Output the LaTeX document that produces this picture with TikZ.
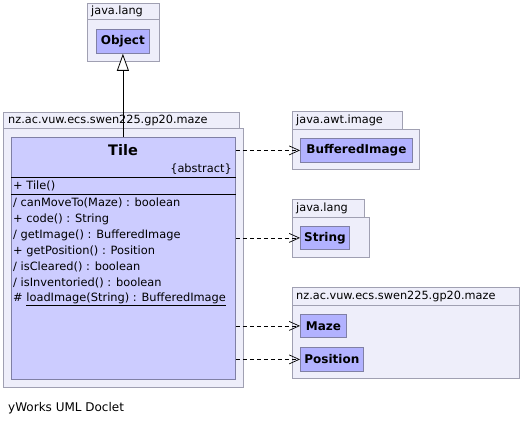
\documentclass[tikz,border=0pt]{standalone}
\usepackage{fontspec}
\setmainfont{DejaVu Sans}
\usetikzlibrary{arrows.meta}
\definecolor{pkgfill}{RGB}{238,238,250}
\definecolor{pkgline}{RGB}{160,160,178}
\definecolor{clsfill}{RGB}{178,178,255}
\definecolor{tilefill}{RGB}{204,204,255}
\definecolor{clsline}{RGB}{128,128,165}
\tikzset{
  pkg/.style={draw=pkgline, fill=pkgfill, line width=0.8pt},
  pkglabel/.style={anchor=west, inner sep=0pt, font=\fontsize{11.3}{13}\selectfont},
  cls/.style={draw=clsline, fill=clsfill, line width=0.8pt, inner sep=0pt, anchor=north west,
    font=\bfseries\fontsize{12}{13}\selectfont},
  tilebox/.style={draw=clsline, fill=tilefill, line width=0.8pt, inner sep=0pt, anchor=north west},
  member/.style={anchor=west, inner sep=0pt, font=\fontsize{11.4}{13}\selectfont},
  sepline/.style={line width=0.8pt, black},
  dep/.style={line width=0.7pt, dash pattern=on 4pt off 3pt, -{Straight Barb[length=10pt,width=9pt]}},
  inherit/.style={line width=0.8pt, -{Triangle[open, length=17pt, width=12pt, fill=white]}}
}
\begin{document}
\begin{tikzpicture}[x=1pt,y=-1pt]
\useasboundingbox (0,0) rectangle (532,425);
\fill[white] (0,0) rectangle (532,425);

% java.lang (Object)
\draw[pkg] (87,3) rectangle (159,19);
\draw[pkg] (87,19) rectangle (159,61);
\node[pkglabel] (pkgA) at (91,11) {java.lang};
\node[cls, minimum width=53, minimum height=24] (obj) at (96,29) {Object};

% main package
\draw[pkg] (3,112) rectangle (239,128);
\draw[pkg] (3,128) rectangle (243,387);
\node[pkglabel] (pkgB) at (8,120) {nz.ac.vuw.ecs.swen225.gp20.maze};
\node[tilebox, minimum width=224, minimum height=242] (tile) at (11,137) {};
\node[font=\bfseries\fontsize{14.5}{17}\selectfont, inner sep=0pt] (tname) at (123,150) {Tile};
\node[member, anchor=east] (tabs) at (232,169) {\{abstract\}};
\draw[sepline] (tile.west |- 0,177) -- (tile.east |- 0,177);
\node[member] (m0) at (13,186) {+ Tile()};
\draw[sepline] (tile.west |- 0,194) -- (tile.east |- 0,194);
\node[member] (m1) at (13,203) {/ canMoveTo(Maze) : boolean};
\node[member] (m2) at (13,219) {+ code() : String};
\node[member] (m3) at (13,235) {/ getImage() : BufferedImage};
\node[member] (m4) at (13,251) {+ getPosition() : Position};
\node[member] (m5) at (13,267) {/ isCleared() : boolean};
\node[member] (m6) at (13,283) {/ isInventoried() : boolean};
\node[member] (m7) at (13,299.5) {\#\ \underline{loadImage(String) : BufferedImage}};

% java.awt.image
\draw[pkg] (292,111) rectangle (402,129);
\draw[pkg] (292,129) rectangle (419,169);
\node[pkglabel] (pkgC) at (296,120) {java.awt.image};
\node[cls, minimum width=112, minimum height=24] (bi) at (300,138) {BufferedImage};

% java.lang (String)
\draw[pkg] (292,199) rectangle (364,217);
\draw[pkg] (292,217) rectangle (369,257);
\node[pkglabel] (pkgD) at (296,208) {java.lang};
\node[cls, minimum width=49, minimum height=23] (str) at (300,226) {String};

% maze package (right)
\draw[pkg] (292,287) rectangle (519,305);
\draw[pkg] (292,305) rectangle (519,378);
\node[pkglabel] (pkgE) at (296,296) {nz.ac.vuw.ecs.swen225.gp20.maze};
\node[cls, minimum width=46, minimum height=23] (maze) at (300,314) {Maze};
\node[cls, minimum width=63, minimum height=24] (pos) at (300,347) {Position};

% connectors
\draw[inherit] (tile.north -| obj.south) -- (obj.south);
\draw[dep] (tile.east |- bi.west) -- (bi.west);
\draw[dep] (tile.east |- str.west) -- (str.west);
\draw[dep] (tile.east |- maze.west) -- (maze.west);
\draw[dep] (tile.east |- pos.west) -- (pos.west);

\node[member, font=\fontsize{12}{14}\selectfont] (footer) at (8,408) {yWorks UML Doclet};
\end{tikzpicture}
\end{document}
